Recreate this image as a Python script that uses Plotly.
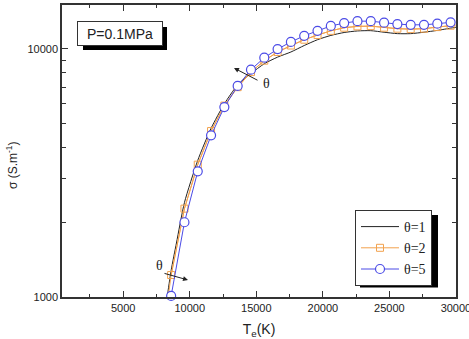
import plotly.graph_objects as go

# Temperature grid for the marked series (K)
T_marked = [8600, 9600, 10600, 11600, 12600, 13600, 14600, 15600, 16600, 17600, 18600,
            19600, 20600, 21600, 22600, 23600, 24600, 25600, 26600, 27600, 28600, 29600]

# theta = 1 (solid black line)
T_theta1 = [8000, 8300, 8600, 9000, 9600, 10600, 11600, 12600, 13600, 14600, 15600, 16600,
            17600, 18600, 19600, 20600, 21600, 22600, 23600, 24600, 25600, 26600, 27600,
            28600, 29600, 30000]
sigma_theta1 = [800, 1000, 1280, 1650, 2400, 3550, 4780, 6000, 7150, 7950, 8700, 9250,
                9700, 10300, 10870, 11310, 11620, 11790, 11820, 11650, 11500, 11500, 11650,
                11850, 12100, 12200]

# theta = 2 (orange squares)
T_theta2 = [8200] + T_marked + [30000]
sigma_theta2 = [850, 1226, 2269, 3412, 4659, 5900, 7000, 8050, 8950, 9700, 10300, 10870,
                11350, 11800, 12150, 12300, 12330, 12150, 12040, 11990, 12040, 12220, 12380, 12450]

# theta = 5 (blue circles)
T_theta5 = T_marked
sigma_theta5 = [1010, 2000, 3206, 4477, 5821, 7080, 8233, 9200, 9963, 10650, 11270,
                11800, 12350, 12680, 12910, 12910, 12730, 12560, 12480, 12480, 12610, 12770]

x_ticks = [5000, 10000, 15000, 20000, 25000, 30000]
x_minor = [2500, 7500, 12500, 17500, 22500, 27500]
y_ticks = [1000, 10000]
y_minor = [2000, 3000, 4000, 5000, 6000, 7000, 8000, 9000]

ORANGE = "#F2A24E"
BLUE = "#4B4BE6"
FONT = "Liberation Sans, Arial, sans-serif"
SERIF = "Liberation Serif, Times New Roman, serif"

fig = go.Figure()
fig.add_trace(go.Scatter(x=T_theta1, y=sigma_theta1, mode="lines", name="θ=1",
                         line=dict(color="#222222", width=1, shape="spline", smoothing=0.6)))
fig.add_trace(go.Scatter(x=T_theta2, y=sigma_theta2, mode="lines", name="θ=2",
                         line=dict(color=ORANGE, width=1), showlegend=False, hoverinfo="skip"))
fig.add_trace(go.Scatter(x=T_marked, y=sigma_theta2[1:-1], mode="lines+markers", name="θ=2",
                         line=dict(color=ORANGE, width=1),
                         marker=dict(symbol="square-open", size=7, color=ORANGE,
                                     line=dict(width=1, color=ORANGE))))
fig.add_trace(go.Scatter(x=T_theta5, y=sigma_theta5, mode="lines+markers", name="θ=5",
                         line=dict(color=BLUE, width=1), cliponaxis=False,
                         marker=dict(symbol="circle", size=9, color="white",
                                     line=dict(width=1.2, color=BLUE))))

L, R, T, B = 62, 13, 5, 42
W, H = 469, 339
pw, ph = W - L - R, H - T - B

def px(x):
    return (x - L) / pw

def py(y):
    return (T + ph - y) / ph

fig.update_layout(
    width=W, height=H,
    margin=dict(l=L, r=R, t=T, b=B, autoexpand=False),
    paper_bgcolor="white", plot_bgcolor="white",
    font=dict(family=FONT, size=11, color="#222222"),
    showlegend=True,
    legend=dict(x=px(355), y=py(210), xanchor="left", yanchor="top",
                bgcolor="white", bordercolor="#333333", borderwidth=1,
                font=dict(family=SERIF, size=14, color="#222222"),
                tracegroupgap=0, itemwidth=38),
    xaxis=dict(range=[400, 30005], tickvals=x_ticks, ticktext=[str(v) for v in x_ticks],
               ticks="inside", ticklen=6, tickwidth=1, tickcolor="#333333",
               ticklabeloverflow="allow",
               showline=True, linecolor="#333333", linewidth=1.5, mirror="ticks",
               showgrid=False, zeroline=False,
               minor=dict(tickvals=x_minor, ticks="inside", ticklen=3, tickcolor="#333333", showgrid=False),
               title=dict(text="T<sub>e</sub>(K)", font=dict(size=14, family=FONT), standoff=14)),
    yaxis=dict(type="log", range=[3, 4.176], tickvals=y_ticks, ticktext=["1000", "10000"],
               ticks="inside", ticklen=6, tickwidth=1, tickcolor="#333333",
               showline=True, linecolor="#333333", linewidth=1.5, mirror="ticks",
               showgrid=False, zeroline=False,
               minor=dict(tickvals=y_minor, ticks="inside", ticklen=4, tickcolor="#333333", showgrid=False)),
)

# shadows for boxes
fig.add_shape(type="rect", xref="paper", yref="paper",
              x0=px(83), x1=px(167), y0=py(50), y1=py(27),
              fillcolor="black", line=dict(width=0), layer="above")
fig.add_shape(type="rect", xref="paper", yref="paper",
              x0=px(360), x1=px(438), y0=py(287.5), y1=py(215),
              fillcolor="black", line=dict(width=0), layer="above")

annotations = [
    dict(text="P=0.1MPa", xref="paper", yref="paper", x=px(120), y=py(33.5),
         xanchor="center", yanchor="middle",
         showarrow=False, font=dict(size=14, family=FONT, color="#222222"),
         bgcolor="white", bordercolor="#333333", borderwidth=1, borderpad=3,
         width=78, height=17),
    dict(text="σ (S.m<sup>-1</sup>)", xref="paper", yref="paper", x=px(12), y=py(165),
         xanchor="center", yanchor="middle",
         showarrow=False, textangle=-90, font=dict(size=12, family=FONT, color="#222222")),
    dict(text="θ", xref="paper", yref="paper", x=px(266.5), y=py(83.5), showarrow=False,
         xanchor="center", yanchor="middle",
         font=dict(size=14, family=SERIF, color="#222222")),
    dict(text="θ", xref="paper", yref="paper", x=px(159.5), y=py(265.5), showarrow=False,
         xanchor="center", yanchor="middle",
         font=dict(size=14, family=SERIF, color="#222222")),
    dict(text="", xref="paper", yref="paper", x=px(234), y=py(68), ax=25, ay=13,
         axref="pixel", ayref="pixel", showarrow=True, arrowhead=2, arrowsize=1,
         arrowwidth=1, arrowcolor="#222222"),
    dict(text="", xref="paper", yref="paper", x=px(188), y=py(280), ax=-25, ay=-7,
         axref="pixel", ayref="pixel", showarrow=True, arrowhead=2, arrowsize=1,
         arrowwidth=1, arrowcolor="#222222"),
]
fig.update_layout(annotations=annotations)

fig.write_html("out.html")
